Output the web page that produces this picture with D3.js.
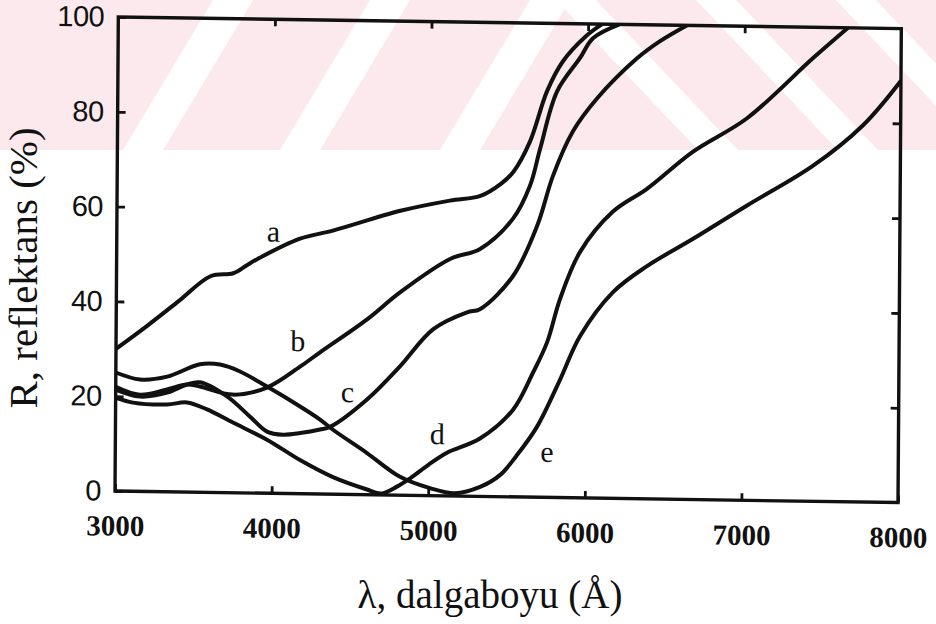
<!DOCTYPE html>
<meta charset="utf-8">
<style>
  body { margin: 0; background: #fff; }
  .axis .domain { display: none; }
  .axis line { stroke: #111; stroke-width: 2.8; }
</style>
<svg width="936" height="624"></svg>
<script src="https://d3js.org/d3.v7.min.js"></script>
<script>
  // reflectance curves, [wavelength (A), R (%)]
  var curveA = [[3000, 30], [3200, 35], [3400, 40.3], [3600, 45.6], [3745, 46.3], [3830, 48], [3900, 49.4],
    [4170, 53.8], [4380, 55.6], [4810, 60], [5125, 62.3], [5320, 63.4], [5450, 66], [5530, 68.6],
    [5634, 75], [5741, 85.7], [5840, 92], [5990, 97.5], [6090, 100]];
  var curveB = [[3000, 22], [3155, 20.4], [3328, 21.6], [3455, 22.7], [3538, 22.3], [3749, 20.7],
    [3966, 22.3], [4176, 26.8], [4303, 29.9], [4602, 37], [4811, 42.8], [5129, 50], [5320, 52.2],
    [5529, 58.7], [5636, 65.7], [5699, 73.5], [5805, 85.7], [5950, 92.8], [6032, 97], [6200, 100]];
  var curveC = [[3000, 21.4], [3155, 20], [3328, 20.9], [3455, 22.7], [3538, 23.2], [3711, 20.3],
    [3859, 16.1], [3968, 13], [4070, 12.4], [4180, 12.8], [4306, 13.6], [4370, 14.2], [4605, 20.1],
    [4814, 27.2], [5023, 35.1], [5240, 38.8], [5322, 39.5], [5532, 46.6], [5683, 57.2], [5783, 67.9],
    [5908, 77.3], [6060, 84.3], [6314, 92.9], [6460, 96.6], [6630, 100]];
  var curveD = [[3000, 19.7], [3111, 18.7], [3328, 18.4], [3455, 18.9], [3584, 17.5], [3750, 14.8],
    [3968, 11.3], [4180, 7.1], [4391, 3.6], [4609, 1.1], [4700, 0.3], [4800, 1.8], [4884, 3.6],
    [5000, 6.5], [5118, 9.1], [5328, 12.2], [5538, 18.4], [5664, 26.3], [5752, 32.7], [5833, 41.9],
    [5959, 51.9], [6167, 60.5], [6383, 65.4], [6676, 73.4], [7019, 80.6], [7438, 93.5], [7660, 100]];
  var curveE = [[3000, 25], [3155, 23.6], [3328, 24.3], [3537, 27], [3665, 27], [3793, 25.6],
    [3966, 22.5], [4178, 18.4], [4306, 15.7], [4389, 13.6], [4607, 8.8], [4819, 3.9], [5011, 1.6],
    [5170, 0.6], [5331, 2], [5459, 4.6], [5560, 8.6], [5692, 14.9], [5837, 24.9],
    [5962, 34.1], [6171, 43.5], [6387, 49.1], [6680, 55], [7023, 62.2], [7443, 70.8], [7760, 79.5],
    [8000, 89]];

  var curveNames = ["a", "b", "c", "d", "e"];
  var curveNameAt = [[4000, 55], [4160, 32], [4480, 21.4], [5055, 12.8], [5757, 9.4]];
  var xTicks = [3000, 4000, 5000, 6000, 7000, 8000];
  var yTicks = [0, 20, 40, 60, 80, 100];

  var svg = d3.select("svg"),
    width = 783,
    height = 474;

  // pink watermark band across the top of the scan
  var wm = svg.append("g");
  wm.append("clipPath").attr("id", "wmclip")
    .append("rect").attr("width", 936).attr("height", 150);
  var wg = wm.append("g").attr("clip-path", "url(#wmclip)");
  wg.append("rect").attr("width", 936).attr("height", 150).attr("fill", "#fce9ed");
  [213, 370, 530].forEach(function(x0) {
    wg.append("polygon").attr("fill", "#fff")
      .attr("points", [[x0, 0], [x0 + 40, 0], [x0 + 40 - 90, 150], [x0 - 90, 150]].join(" "));
  });
  [556, 696, 836].forEach(function(x0) {
    wg.append("polygon").attr("fill", "#fff")
      .attr("points", [[x0, 0], [x0 + 40, 0], [x0 + 40 + 142, 150], [x0 + 142, 150]].join(" "));
  });

  // the scanned frame is slightly skewed
  var g = svg.append("g")
    .attr("transform", "matrix(1,0.0148,-0.007,1,115,491)");

  var x = d3.scaleLinear().domain([3000, 8000]).range([0, width]);
  var y = d3.scaleLinear().domain([0, 100]).range([0, -height]);

  g.append("clipPath").attr("id", "plot")
    .append("rect").attr("x", 0).attr("y", -height).attr("width", width).attr("height", height);

  var line = d3.line()
    .x(function(d) { return x(d[0]); })
    .y(function(d) { return y(d[1]); })
    .curve(d3.curveCatmullRom.alpha(0.5));

  g.append("g").attr("clip-path", "url(#plot)")
    .selectAll("path")
    .data([curveA, curveB, curveC, curveD, curveE])
    .enter().append("path")
    .attr("d", line)
    .attr("fill", "none")
    .attr("stroke", "#111")
    .attr("stroke-width", 4)
    .attr("stroke-linejoin", "round");

  g.append("rect")
    .attr("x", 0).attr("y", -height)
    .attr("width", width).attr("height", height)
    .attr("fill", "none").attr("stroke", "#111").attr("stroke-width", 3.4);

  // bottom axis
  var xb = g.append("g").attr("class", "axis")
    .call(d3.axisBottom(x).tickValues(xTicks).tickSizeInner(-7).tickSizeOuter(0).tickPadding(24)
      .tickFormat(d3.format("d")));
  xb.selectAll("text")
    .attr("font-family", "Liberation Serif, serif")
    .attr("font-weight", "bold")
    .attr("font-size", 29)
    .attr("fill", "#111");

  // left axis
  var yl = g.append("g").attr("class", "axis")
    .call(d3.axisLeft(y).tickValues(yTicks).tickSizeInner(-8).tickSizeOuter(0).tickPadding(14));
  yl.selectAll("text")
    .attr("font-family", "Liberation Sans, sans-serif")
    .attr("font-size", 29)
    .attr("letter-spacing", -0.5)
    .attr("fill", "#111");

  // inward ticks on top and right
  g.append("g").attr("class", "axis")
    .attr("transform", "translate(0," + (-height) + ")")
    .call(d3.axisTop(x).tickValues(xTicks.slice(1, -1)).tickSizeInner(-7).tickSizeOuter(0).tickFormat(""));
  g.append("g").attr("class", "axis")
    .attr("transform", "translate(" + width + ",0)")
    .call(d3.axisRight(y).tickValues(yTicks.slice(1, -1)).tickSizeInner(-8).tickSizeOuter(0).tickFormat(""));

  // curve letters
  g.selectAll(".lbl")
    .data(curveNames)
    .enter().append("text")
    .attr("class", "lbl")
    .attr("x", function(d, i) { return x(curveNameAt[i][0]); })
    .attr("y", function(d, i) { return y(curveNameAt[i][1]); })
    .attr("dy", "0.3em")
    .attr("text-anchor", "middle")
    .attr("font-family", "Liberation Serif, serif")
    .attr("font-size", 30)
    .attr("fill", "#111")
    .text(function(d) { return d; });

  // axis titles
  svg.append("text")
    .attr("transform", "translate(37,268) rotate(-90)")
    .attr("text-anchor", "middle")
    .attr("font-family", "Liberation Serif, serif")
    .attr("font-size", 41)
    .attr("fill", "#111")
    .text("R,  reflektans (%)");

  svg.append("text")
    .attr("x", 490)
    .attr("y", 608)
    .attr("text-anchor", "middle")
    .attr("font-family", "Liberation Serif, serif")
    .attr("font-size", 39)
    .attr("fill", "#111")
    .text("λ, dalgaboyu (Å)");
</script>
